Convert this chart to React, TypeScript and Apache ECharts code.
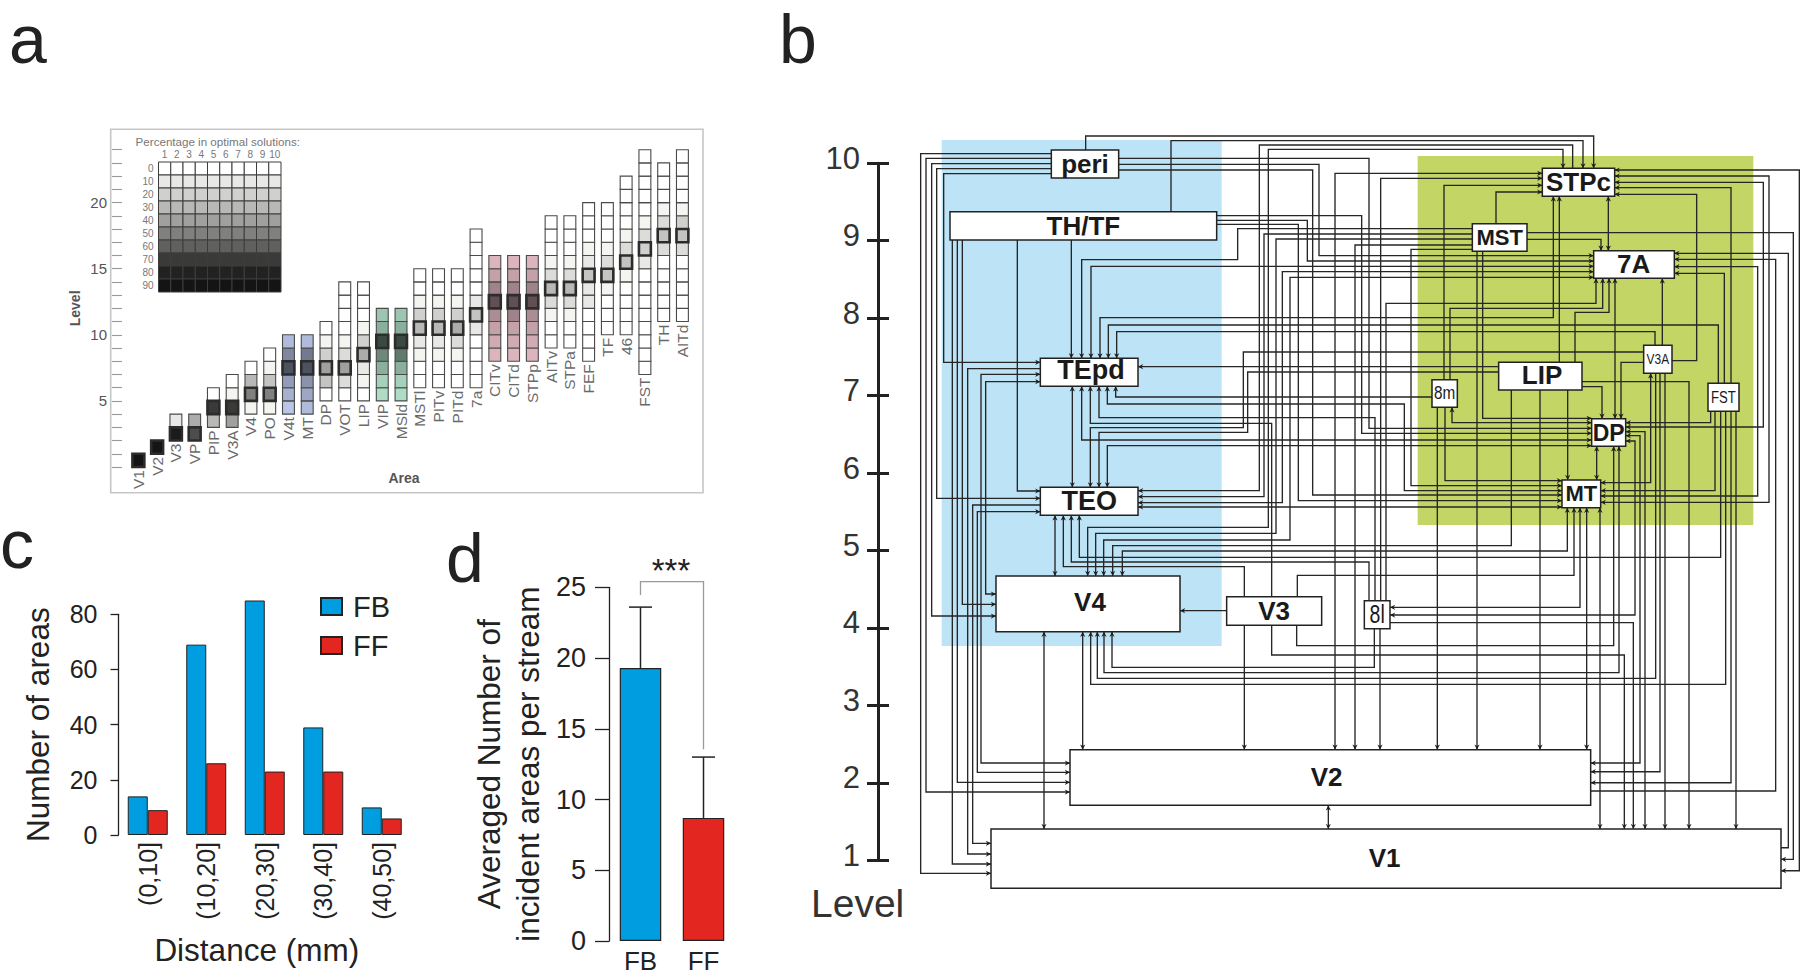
import React, { useEffect, useRef } from "react";
import * as echarts from "echarts";

const SANS = "'Liberation Sans', Arial, sans-serif";
const INK = "#222222";

/* ---------- panel a ---------- */
const areas = ["V1","V2","V3","VP","PIP","V3A","V4","PO","V4t","MT","DP","VOT","LIP","VIP","MSld","MSTl","PITv","PITd","7a","CITv","CITd","STPp","AITv","STPa","FEF","TF","46","FST","TH","AITd"];
const areaFirstLevel = [0,1,2,2,3,3,4,4,4,4,5,5,5,5,5,6,6,6,6,8,8,8,9,9,8,10,10,7,11,11];
const areaBestLevel = [0,1,2,2,4,4,5,5,7,7,7,7,8,9,9,10,10,10,11,12,12,12,13,13,14,14,15,16,17,17];
const areaTint = ["","","","","","","","","blue","blue","","","","green","green","","","","","red","red","red","","","","","","","",""];
const areaPercent: number[][] = [
  [90],[90],[85,10],[65,35],[30,70,0],[40,70,5,0],[5,50,30,0],[5,50,25,5,0],
  [10,20,30,60,40,15],[15,25,35,60,45,15],[0,25,40,20,5,0],[0,15,40,15,5,0,0,0,0],
  [0,5,10,35,20,5,0,0,0],[10,15,30,45,65,30,20],[10,15,30,50,65,30,20],
  [0,0,5,10,30,20,5,0,0],[0,0,5,10,30,20,5,0,0],[0,0,5,15,35,20,5,0,0],
  [0,0,0,0,10,25,10,0,0,0,0,0],[15,20,25,35,60,40,25,15],[15,20,25,40,60,40,25,15],[15,20,25,35,60,40,25,15],
  [0,0,5,15,30,15,5,0,0,0],[0,0,5,15,30,15,5,0,0,0],[0,0,0,0,10,10,25,10,5,0,0,0],
  [0,0,0,5,25,15,5,0,0,0],[0,0,0,0,5,25,15,5,0,0,0,0],
  [0,0,0,0,0,0,0,0,10,20,15,5,0,0,0,0,0],[0,0,0,0,0,15,25,15,5,0,0,0],[0,0,0,0,0,15,25,20,5,0,0,0,0],
];
const levelTicksA = [5,10,15,20];
const insetColumns = ["1","2","3","4","5","6","7","8","9","10"];
const insetPercents = ["0","10","20","30","40","50","60","70","80","90"];
const greyRamp = [255,232,208,184,160,128,96,58,34,20];

/* ---------- panel b: diagram units; v is converted to the Level scale ---------- */
const levelsB = [1,2,3,4,5,6,7,8,9,10];
// name, left, top, right, bottom, font size, x-squeeze, bold, label centre (optional)
const nodes: any[][] = [
  ["peri",454,75,656,159,26,1,1],["TH/TF",150,260,950,345,26,1,1],["TEpd",421,700,714,784,27,1,1,573,735],
  ["TEO",421,1087,714,1171,27,1,1],["V4",288,1353,840,1520,26,1,1,570,1432],["V3",980,1415,1265,1501,26,1,1],
  ["8l",1393,1427,1470,1511,25,.78,0],["V2",510,1874,2072,2041,26,1,1,1280,1955],["V1",273,2112,2643,2290,26,1,1,1454,2200],
  ["STPc",1927,130,2144,214,26,1,1],["MST",1717,296,1881,379,22,1,1],["7A",2081,377,2323,460,26,1,1,2201,418],
  ["LIP",1796,712,2046,795,26,1,1,1926,750],["V3A",2231,661,2316,745,14,.85,0],["8m",1596,764,1672,847,18,.85,0],
  ["FST",2424,775,2517,859,16,.82,0],["DP",2075,881,2177,964,23,1,1],["MT",1986,1065,2102,1148,22,1,1],
];
const bgBlue = [125,45,965,1563];
const bgGreen = [1553,93,2560,1200];
// [first leg: 0 horizontal / 1 vertical, arrows: 1 end / 2 both, x0, y0, then alternating legs]
const H = 0, V = 1;
const links: number[][] = [
  [H,1,454,86,62,2245,273],[H,1,454,100,78,2001,510],[H,1,454,116,95,1473,288],[H,1,454,131,110,1120,421],
  [H,1,454,146,131,712,421],[V,1,557,75,33,2081,130],[H,1,656,100,1407,910,2075],[H,1,656,118,1257,392,2081],
  [H,1,656,135,1238,1110,1986],[V,1,813,260,47,2049,130],[V,1,2018,130,60,1078,1097,714],[V,2,563,1353,1207,1105,73,1989,130],
  [H,1,950,272,1385,925,2075],[H,1,950,286,1222,408,2081],[H,1,950,298,1195,1127,1986],[V,1,514,345,700],
  [V,1,352,345,1098,421],[V,1,187,345,1438,288],[V,1,172,345,1972,510],[V,1,157,345,2217,273],
  [H,1,1717,311,1013,404,545,700],[V,2,573,700,424,2081],[V,2,600,700,578,1960,214],[V,1,2455,775,600,625,700],
  [V,1,2265,661,620,650,700],[H,1,421,731,203,2187,273],[H,2,421,748,243,1914,510],[H,2,421,770,257,1407,288],
  [H,1,421,1140,218,2155,273],[H,2,421,1160,232,1942,510],[H,1,1717,327,1092,1115,714],[H,2,714,1133,1147,440,2081],
  [H,2,714,1146,1986],[V,2,517,784,1087],[H,1,2231,681,1030,908,571,1087],[H,1,1796,741,1043,922,597,1087],
  [V,2,622,1087,962,2075],[V,2,545,784,945,2075],[V,1,1115,1415,895,571,784],[V,1,1425,1427,878,597,784],
  [V,1,1442,1427,160,1927],[V,1,1458,1427,535,2088,460],[V,2,622,784,837,1513,1097,1986],[H,1,1596,816,647,784],
  [H,1,1796,725,714],[V,2,465,1171,1353],[H,1,1717,342,1128,1225,587,1353],[V,2,611,1353,1245,1170,457,2081],
  [V,1,1834,795,1262,638,1353],[V,2,667,1353,1278,2002,1148],[V,1,2462,859,1297,538,1171],[V,1,1407,1427,1311,514,1171],
  [V,1,1033,1415,1325,490,1171],[V,1,1033,1501,1874],[V,1,1192,1415,1351,2022,1148],[H,1,980,1457,840],
  [V,1,1115,1501,1590,2173,2112],[V,1,1190,1501,1562,2141,964],[H,2,1470,1447,2040,1148],[H,1,1470,1493,2200,2112],
  [V,1,1423,1511,1627,636,1520],[V,1,1440,1511,1874],[V,2,432,1520,2112],[V,2,548,1520,1874],
  [V,2,612,1520,1643,2157,964],[V,1,2267,745,1660,592,1520],[V,1,2477,859,1678,572,1520],[V,2,1305,1874,145,1927],
  [H,1,1717,360,1365,1874],[H,1,1717,373,1533,1082,1986],[V,1,1612,847,1874],[V,1,1632,764,181,1927],
  [V,1,1650,764,550,2108,460],[V,1,1635,847,1067,1986],[H,2,2075,893,1656,847],[V,1,1731,379,1874],
  [V,1,1748,379,880,2075],[V,1,1788,296,201,1927],[H,2,2144,135,2698,2237,2643],[H,1,1881,323,2680,2203,2643],
  [H,1,2643,2168,2665,385,2323],[H,1,2072,1998,2627,403,2323],[H,2,2102,1113,2573,425,2323],[V,1,2473,775,445,2323],
  [H,2,2144,153,2607,1132,2102],[H,2,2144,172,2590,906,2177],[V,1,2493,775,188,2144],[H,1,2316,707,2390,208,2144],
  [H,1,1881,343,2103,377],[V,1,1978,712,214],[V,2,2125,214,377],[V,1,2025,712,562,2127,460],
  [V,2,2145,460,881],[V,1,2287,661,460],[V,1,1920,795,1874],[V,1,2003,795,1065],
  [H,1,2046,785,2106,881],[H,1,2046,770,2367,2112],[H,1,2231,712,2163,881],[V,2,2252,745,1073,2102],
  [V,1,2280,745,1940,2072],[V,1,2295,745,2112],[V,1,2445,859,1097,2102],[V,1,2432,859,893,2177],
  [V,1,2493,859,1973,2072],[V,1,2508,859,2112],[H,2,2177,920,2235,2112],[H,2,2177,932,2220,1914,2072],
  [H,2,2177,948,2205,1470,1470],[V,2,2090,964,1065],[V,2,2060,1148,1874],[V,2,2100,1148,2112],
  [V,2,1285,2041,2112],
];

/* ---------- panel c ---------- */
const distances = ["(0,10]","(10,20]","(20,30]","(30,40]","(40,50]"];
const distanceFB = [14,69,85,39,10];
const distanceFF = [9,26,23,23,6];

/* ---------- panel d ---------- */
const streams = ["FB","FF"];
const streamMean = [19.3,8.7];
const streamUpper = [23.6,13];
const bracketLeft = 24.45;
const bracketTop = 25.4;
const bracketRight = 13.55;

const lev = (v: number) => 10 - (125 + v / 3 - 163.3) / 77.44;

function greyOf(p: number) {
  const t = Math.min(p / 10, 9);
  const i = Math.floor(t);
  const j = Math.min(i + 1, 9);
  return greyRamp[i] + (greyRamp[j] - greyRamp[i]) * (t - i);
}
const tints: Record<string, number[]> = { "": [1, 1, 0.99], blue: [0.8, 0.85, 1], green: [0.75, 0.95, 0.85], red: [1, 0.82, 0.86] };
function cellColor(p: number, tint: string) {
  const g = greyOf(p);
  const m = p === 0 ? [1, 1, 1] : tints[tint];
  return `rgb(${Math.round(g * m[0])},${Math.round(g * m[1])},${Math.round(g * m[2])})`;
}

function expand(link: number[]) {
  let horizontal = link[0] === H;
  let x = link[2], y = link[3];
  const pts = [[x, y]];
  for (let i = 4; i < link.length; i++) {
    if (horizontal) x = link[i]; else y = link[i];
    pts.push([x, y]);
    horizontal = !horizontal;
  }
  return pts;
}
function arrowHead(tip: number[], from: number[]) {
  const dx = tip[0] - from[0], dy = tip[1] - from[1];
  const d = Math.hypot(dx, dy) || 1;
  const ux = dx / d, uy = dy / d;
  const L = 5.2, W = 2.6, N = 3.6;
  return [
    [tip[0], tip[1]],
    [tip[0] - ux * L - uy * W, tip[1] - uy * L + ux * W],
    [tip[0] - ux * N, tip[1] - uy * N],
    [tip[0] - ux * L + uy * W, tip[1] - uy * L - ux * W],
  ];
}

function buildOption() {
  const cellData: any[] = [];
  const bestData: any[] = [];
  const labelData: any[] = [];
  areas.forEach((_, i) => {
    areaPercent[i].forEach((p, n) => {
      const level = areaFirstLevel[i] + n;
      cellData.push([i, level, p]);
      if (level === areaBestLevel[i]) bestData.push([i, level, p]);
    });
    labelData.push([i, areaFirstLevel[i]]);
  });
  const insetData: any[] = [];
  insetPercents.forEach((p, r) => insetColumns.forEach((_, c) => insetData.push([c, r, Number(p)])));

  const cellItem = (lw: number, stroke: string) => (params: any, api: any) => {
    const i = api.value(0), k = api.value(1);
    const a = api.coord([i, k + 1]), b = api.coord([i, k]);
    return {
      type: "rect",
      shape: { x: a[0] - 5.95, y: a[1], width: 11.9, height: b[1] - a[1] },
      style: { fill: cellColor(api.value(2), areaTint[i]), stroke, lineWidth: lw },
    };
  };

  const text = (t: string, x: number, y: number, o: any = {}) => ({
    type: "text", x, y, rotation: o.rotation || 0, silent: true,
    style: { text: t, fontFamily: o.family || SANS, fontSize: o.size, fontWeight: o.weight || "normal",
      fill: o.fill || INK, textAlign: o.align || "left", textVerticalAlign: o.valign || "top",
      ...(o.lineHeight ? { lineHeight: o.lineHeight } : {}) },
  });

  const freeGrid = { outerBoundsMode: "none" };
  return {
    animation: false,
    backgroundColor: "#ffffff",
    textStyle: { fontFamily: SANS },
    legend: {
      left: 320, top: 592, padding: 0, orient: "vertical", itemWidth: 21, itemHeight: 17, itemGap: 10, icon: "rect",
      data: ["FB", "FF"],
      textStyle: { fontSize: 29, fontFamily: SANS, color: INK, padding: [0, 0, 0, 6] },
    },
    graphic: [
      { type: "rect", shape: { x: 110.7, y: 129.3, width: 592.3, height: 363.4 }, style: { fill: "none", stroke: "#c6c6c6", lineWidth: 1.6 }, silent: true },
      text("a", 9, 14, { size: 68, lineHeight: 50 }),
      text("b", 779, 14, { size: 68, lineHeight: 50 }),
      text("c", 0, 519, { size: 68, lineHeight: 50 }),
      text("d", 446, 533, { size: 68, lineHeight: 50 }),
      text("Percentage in optimal solutions:", 135.6, 135, { size: 11.6, fill: "#777777" }),
      text("Area", 404, 471, { size: 14, weight: "bold", fill: "#555555", align: "center" }),
      text("Level", 811, 884, { size: 39, fill: "#333333" }),
      text("***", 671, 554, { size: 33, align: "center" }),
    ],
    grid: [
      { ...freeGrid, left: 129, top: 149.7, width: 562.8, height: 317.3 },
      { ...freeGrid, left: 158.5, top: 162, width: 122.5, height: 130 },
      { ...freeGrid, left: 878, top: 163.3, width: 922, height: 697 },
      { ...freeGrid, left: 118.5, top: 614.3, width: 292.5, height: 220.7 },
      { ...freeGrid, left: 609, top: 587.3, width: 126, height: 353.7 },
    ],
    xAxis: [
      { gridIndex: 0, type: "category", data: areas, show: false },
      { gridIndex: 1, type: "category", data: insetColumns, position: "top",
        axisLine: { show: false }, axisTick: { show: false },
        axisLabel: { fontSize: 10, color: "#777777", margin: 3, fontFamily: SANS, interval: 0 } },
      { gridIndex: 2, type: "value", min: -66, max: 2700, show: false },
      { gridIndex: 3, type: "category", data: distances,
        axisLine: { show: false }, axisTick: { show: false },
        axisLabel: { rotate: 90, fontSize: 25, color: INK, margin: 7, fontFamily: SANS, interval: 0 },
        name: "Distance (mm)", nameLocation: "middle", nameGap: 99,
        nameTextStyle: { fontSize: 31.5, color: INK, fontFamily: SANS, padding: [0, 16, 0, 0] } },
      { gridIndex: 4, type: "category", data: streams,
        axisLine: { show: false }, axisTick: { show: false },
        axisLabel: { fontSize: 26, lineHeight: 20, color: INK, margin: 10, fontFamily: SANS, interval: 0 } },
    ],
    yAxis: [
      { gridIndex: 0, type: "value", position: "left", min: 0, max: 24, offset: 17, splitLine: { show: false },
        axisLine: { show: false },
        axisTick: { inside: true, length: 23, customValues: levelTicksA, lineStyle: { color: "#888888", width: 1.2 } },
        axisLabel: { customValues: levelTicksA, fontSize: 15, color: "#555555", margin: 5, fontFamily: SANS },
        name: "Level", nameLocation: "middle", nameGap: 30, nameRotate: 90,
        nameTextStyle: { fontSize: 14, fontWeight: "bold", color: "#555555", fontFamily: SANS } },
      { gridIndex: 0, type: "value", position: "left", min: 0, max: 24, interval: 1, offset: 17, splitLine: { show: false },
        axisLine: { show: false }, axisLabel: { show: false },
        axisTick: { show: true, inside: true, length: 10, lineStyle: { color: "#999999", width: 1.1 } } },
      { gridIndex: 1, type: "category", data: insetPercents, inverse: true,
        axisLine: { show: false }, axisTick: { show: false },
        axisLabel: { fontSize: 10, color: "#777777", margin: 5, fontFamily: SANS, interval: 0 } },
      { gridIndex: 2, type: "value", position: "left", min: 1, max: 10, interval: 1, splitLine: { show: false },
        axisLine: { show: true, onZero: false, lineStyle: { color: "#222222", width: 3 } },
        axisTick: { show: true, length: 11, lineStyle: { color: "#222222", width: 3 } },
        axisLabel: { fontSize: 31, color: "#333333", margin: 18, fontFamily: SANS,
          customValues: levelsB, verticalAlign: "bottom", lineHeight: 10 } },
      { gridIndex: 2, type: "value", position: "left", min: 1, max: 10, interval: 1, splitLine: { show: false },
        axisLine: { show: false, onZero: false }, axisLabel: { show: false },
        axisTick: { show: true, inside: true, length: 11, lineStyle: { color: "#222222", width: 3 } } },
      { gridIndex: 3, type: "value", min: 0, max: 80, interval: 20, splitLine: { show: false },
        axisLine: { show: true, lineStyle: { color: "#222222", width: 1.3 } },
        axisTick: { show: true, length: 8, lineStyle: { color: "#222222", width: 1.3 } },
        axisLabel: { fontSize: 25, color: INK, margin: 21, fontFamily: SANS },
        name: "Number of areas", nameLocation: "middle", nameGap: 65, nameRotate: 90,
        nameTextStyle: { fontSize: 31.5, color: INK, fontFamily: SANS } },
      { gridIndex: 4, type: "value", min: 0, max: 25, interval: 5, splitLine: { show: false },
        axisLine: { show: true, lineStyle: { color: "#222222", width: 1.3 } },
        axisTick: { show: true, length: 14, lineStyle: { color: "#222222", width: 1.3 } },
        axisLabel: { fontSize: 27, color: INK, margin: 23, fontFamily: SANS },
        name: "Averaged Number of\nincident areas per stream", nameLocation: "middle", nameGap: 62, nameRotate: 90,
        nameTextStyle: { fontSize: 31.5, color: INK, fontFamily: SANS, lineHeight: 39 } },
    ],
    series: [
      { type: "custom", name: "cells", xAxisIndex: 0, yAxisIndex: 0, data: cellData, silent: true,
        encode: { x: 0, y: 1 }, renderItem: cellItem(1.1, "#4a4a4a") },
      { type: "custom", name: "optimal", xAxisIndex: 0, yAxisIndex: 0, data: bestData, silent: true,
        encode: { x: 0, y: 1 }, renderItem: cellItem(2.6, "#2c2c2c") },
      { type: "custom", name: "areaLabels", xAxisIndex: 0, yAxisIndex: 0, data: labelData, silent: true,
        encode: { x: 0, y: 1 },
        renderItem: (params: any, api: any) => {
          const i = api.value(0);
          const p = api.coord([i, api.value(1)]);
          return { type: "text", x: p[0], y: p[1] + 3, rotation: Math.PI / 2,
            style: { text: areas[i], fontSize: 15.5, fontFamily: SANS, fill: "#6a6a6a", align: "right", verticalAlign: "middle" } };
        } },
      { type: "custom", name: "inset", xAxisIndex: 1, yAxisIndex: 2, data: insetData, silent: true,
        encode: { x: 0, y: 1 },
        renderItem: (params: any, api: any) => {
          const p = api.coord([api.value(0), api.value(1)]);
          const s = api.size([1, 1]);
          return { type: "rect", shape: { x: p[0] - s[0] / 2, y: p[1] - s[1] / 2, width: s[0], height: s[1] },
            style: { fill: cellColor(api.value(2), ""), stroke: "#3c3c3c", lineWidth: 1 } };
        } },
      { type: "custom", name: "streams", xAxisIndex: 2, yAxisIndex: 3, silent: true,
        data: [[...bgBlue, 0], [...bgGreen, 1]],
        encode: { x: 0, y: 1 },
        renderItem: (params: any, api: any) => {
          const a = api.coord([api.value(0), lev(api.value(1))]);
          const b = api.coord([api.value(2), lev(api.value(3))]);
          return { type: "rect", shape: { x: a[0], y: a[1], width: b[0] - a[0], height: b[1] - a[1] },
            style: { fill: api.value(4) === 0 ? "#bde3f6" : "#c3d564" } };
        } },
      { type: "custom", name: "links", xAxisIndex: 2, yAxisIndex: 3, silent: true,
        data: links.map((l, i) => [l[2], lev(l[3]), i]),
        encode: { x: 0, y: 1 },
        renderItem: (params: any, api: any) => {
          const link = links[api.value(2)];
          const pts = expand(link).map((q) => api.coord([q[0], lev(q[1])]));
          const n = pts.length;
          const children: any[] = [
            { type: "polyline", shape: { points: pts }, style: { stroke: "#262626", lineWidth: 1.35, fill: "none" } },
            { type: "polygon", shape: { points: arrowHead(pts[n - 1], pts[n - 2]) }, style: { fill: "#1e1e1e" } },
          ];
          if (link[1] === 2) children.push({ type: "polygon", shape: { points: arrowHead(pts[0], pts[1]) }, style: { fill: "#1e1e1e" } });
          return { type: "group", children };
        } },
      { type: "custom", name: "nodes", xAxisIndex: 2, yAxisIndex: 3, silent: true,
        data: nodes.map((b, i) => [b[1], lev(b[2]), i]),
        encode: { x: 0, y: 1 },
        renderItem: (params: any, api: any) => {
          const b = nodes[api.value(2)];
          const a = api.coord([b[1], lev(b[2])]);
          const c = api.coord([b[3], lev(b[4])]);
          const lx = b[8] !== undefined ? b[8] : (b[1] + b[3]) / 2;
          const ly = b[9] !== undefined ? b[9] : (b[2] + b[4]) / 2;
          const t = api.coord([lx, lev(ly)]);
          return { type: "group", children: [
            { type: "rect", shape: { x: a[0], y: a[1], width: c[0] - a[0], height: c[1] - a[1] },
              style: { fill: "#ffffff", stroke: "#222222", lineWidth: 1.5 } },
            { type: "text", x: t[0], y: t[1], scaleX: b[6],
              style: { text: b[0], fontSize: b[5], fontFamily: SANS, fontWeight: b[7] ? "bold" : "normal", fill: "#1a1a1a",
                align: "center", verticalAlign: "middle" } },
          ] };
        } },
      { type: "bar", name: "FB", xAxisIndex: 3, yAxisIndex: 5, data: distanceFB, barWidth: 20, barGap: "0%", clip: false,
        itemStyle: { color: "#009ee0", borderColor: "#222222", borderWidth: 1 } },
      { type: "bar", name: "FF", xAxisIndex: 3, yAxisIndex: 5, data: distanceFF, barWidth: 20, barGap: "0%", clip: false,
        itemStyle: { color: "#e32620", borderColor: "#222222", borderWidth: 1 } },
      { type: "custom", name: "errors", xAxisIndex: 4, yAxisIndex: 6, silent: true, clip: false,
        data: streams.map((_, i) => [i, streamUpper[i], streamMean[i]]),
        encode: { x: 0, y: 1 },
        renderItem: (params: any, api: any) => {
          const top = api.coord([api.value(0), api.value(1)]);
          const bot = api.coord([api.value(0), api.value(2)]);
          const st = { stroke: "#222222", lineWidth: 1.5 };
          return { type: "group", children: [
            { type: "line", shape: { x1: top[0], y1: top[1], x2: bot[0], y2: bot[1] }, style: st },
            { type: "line", shape: { x1: top[0] - 11.5, y1: top[1], x2: top[0] + 11.5, y2: top[1] }, style: st },
          ] };
        } },
      { type: "bar", name: "stream", xAxisIndex: 4, yAxisIndex: 6, barWidth: 41.5,
        data: streamMean.map((v, i) => ({ value: v, itemStyle: { color: i === 0 ? "#009ee0" : "#e32620" } })),
        itemStyle: { borderColor: "#222222", borderWidth: 1.2 } },
      { type: "custom", name: "bracket", xAxisIndex: 4, yAxisIndex: 6, silent: true, clip: false,
        data: [[0, bracketLeft, 1, bracketTop, bracketRight]],
        encode: { x: 0, y: 1 },
        renderItem: (params: any, api: any) => {
          const pts = [
            api.coord([0, api.value(1)]), api.coord([0, api.value(3)]),
            api.coord([1, api.value(3)]), api.coord([1, api.value(4)]),
          ];
          return { type: "polyline", shape: { points: pts }, style: { stroke: "#9a9a9a", lineWidth: 1.3, fill: "none" } };
        } },
    ],
  };
}

export default function App() {
  const ref = useRef<HTMLDivElement>(null);
  useEffect(() => {
    document.body.style.margin = "0";
    const chart = echarts.init(ref.current as HTMLDivElement, undefined, { renderer: "svg" });
    chart.setOption(buildOption() as any);
    return () => chart.dispose();
  }, []);
  return <div ref={ref} style={{ position: "absolute", left: 0, top: 0, width: 1800, height: 976 }} />;
}
